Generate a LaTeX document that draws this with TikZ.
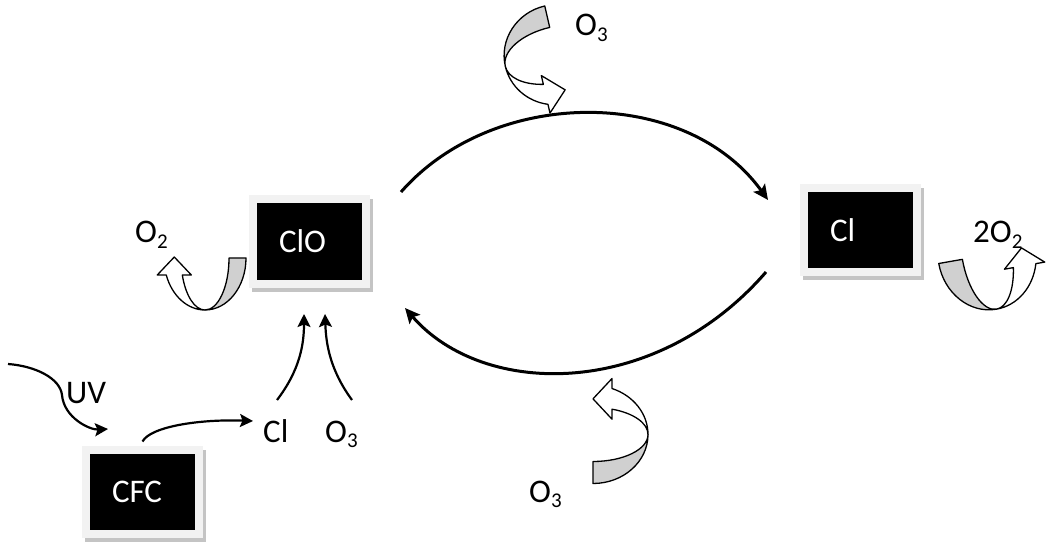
\documentclass[tikz,border=0pt]{standalone}
\usepackage{fontspec}
\setmainfont{Carlito}
\usetikzlibrary{arrows.meta,calc,shadows}
\definecolor{framegray}{HTML}{F2F2F2}
\definecolor{shadowgray}{HTML}{C4C4C4}
\definecolor{bandgray}{HTML}{D0D0D0}
\newcommand{\chemsub}[1]{\raisebox{-0.18em}{\fontsize{21pt}{21pt}\selectfont #1}}
\newcommand{\boxtext}[1]{\makebox[61pt][l]{#1}}
\tikzset{
  lbl/.style={inner sep=0pt, anchor=base west, font=\fontsize{33pt}{40pt}\selectfont},
  boxnode/.style={fill=black, text=white, draw=framegray, line width=8pt,
    minimum width=113pt, minimum height=84pt, inner xsep=26pt, inner ysep=0pt,
    font=\fontsize{33pt}{40pt}\selectfont,
    general shadow={draw=shadowgray, fill=shadowgray, line width=8pt, shadow xshift=3pt, shadow yshift=-4pt}},
  cycarrow/.style={line width=3pt, -{Stealth[length=15pt,width=14pt,inset=3pt]}},
  thinarrow/.style={line width=2.2pt, -{Stealth[length=13pt,width=13pt,inset=2.5pt]}},
  uband/.style={draw=black, line width=1.3pt, line join=round},
  pics/uturn/.style n args={6}{code={%
    \pgfmathsetmacro\uCa{sqrt(1-((#4)/(#3))^2)}%
    \pgfmathsetmacro\uXo{-(#1)*\uCa}%
    \pgfmathsetmacro\uXi{-(#2)*\uCa}%
    \pgfmathsetmacro\uXm{(\uXo+\uXi)/2}%
    \pgfmathsetmacro\uT{-180-asin((#4)/(#3))}%
    \filldraw[uband, fill=bandgray] (#1,0) arc[start angle=0,end angle=-90,x radius=#1,y radius=#3]
      arc[start angle=-90,end angle=0,x radius=#2,y radius=#3] -- cycle;
    \filldraw[uband, fill=white] (0,-#3) arc[start angle=-90,end angle=\uT,x radius=#1,y radius=#3]
      -- ++(-#5,0) -- (\uXm,#4+#6) -- (\uXi+#5,#4) -- (\uXi,#4)
      arc[start angle=\uT,end angle=-90,x radius=#2,y radius=#3] -- cycle;
  }}
}
\begin{document}
\begin{tikzpicture}[x=1pt,y=1pt]
\useasboundingbox (0,0) rectangle (1056,544);
\fill[white] (0,0) rectangle (1056,544);

% boxes
\node[boxnode] (clo) at (309.5,302.5) {\boxtext{ClO}};
\node[boxnode] (cl) at (860.5,314) {\boxtext{Cl}};
\node[boxnode] (cfc) at (142.5,52.5) {\boxtext{CFC}};

% labels
\node[lbl] (o3top) at (575,508.5) {O\chemsub{3}};
\node[lbl] (o3bot) at (529,42) {O\chemsub{3}};
\node[lbl] (o2) at (135,301) {O\chemsub{2}};
\node[lbl] (twoo2) at (973,301) {2O\chemsub{2}};
\node[lbl] (cl2) at (263,102) {Cl};
\node[lbl] (o3m) at (325,102) {O\chemsub{3}};
\node[lbl] (uv) at (66,141) {UV};

% cycle arcs
\draw[cycarrow] ($(clo.north east)+(31,3.5)$) .. controls +(93,106) and +(-82,114) .. ($(cl.north west)+(-32,-16)$);
\draw[cycarrow] ($(cl.south west)+(-34,4)$) .. controls +(-110,-127) and +(79,-91) .. ($(clo.south east)+(35,-20.5)$);

% arrows into ClO
\draw[thinarrow] ($(cl2.base west)+(14,42)$) .. controls +(23,30) and +(0,-30) .. ($(clo.south)+(-5.5,-26.5)$);
\draw[thinarrow] ($(o3m.base west)+(27,42)$) .. controls +(-22,30) and +(1,-30) .. ($(clo.south)+(15.5,-26.5)$);

% CFC -> Cl
\draw[thinarrow] ($(cfc.north)+(0,4)$) .. controls +(8,15) and +(-53,2) .. ($(cl2.base west)+(-10,21)$);

% UV
\coordinate (uvstart) at (8,180);
\coordinate (uvbend) at (62,149);
\draw[thinarrow] (uvstart) .. controls (35,178) and (60,166) .. (uvbend)
  .. controls (64,126) and (90,114) .. ($(cfc.north west)+(26,16.5)$);

% curved block arrows
\pic[rotate=283, xscale=-1] at (556,489.3) {uturn={50}{28}{52}{-19}{9}{20}};
\pic[rotate=90, xscale=-1] at (593,109.5) {uturn={49}{27}{55}{-19}{10}{19}};
\pic at (205,286) {uturn={41}{24}{52}{-17}{9}{18}};
\pic[rotate=10, xscale=-1] at (987,289) {uturn={49}{25}{55}{-17}{9}{18}};
\end{tikzpicture}
\end{document}
